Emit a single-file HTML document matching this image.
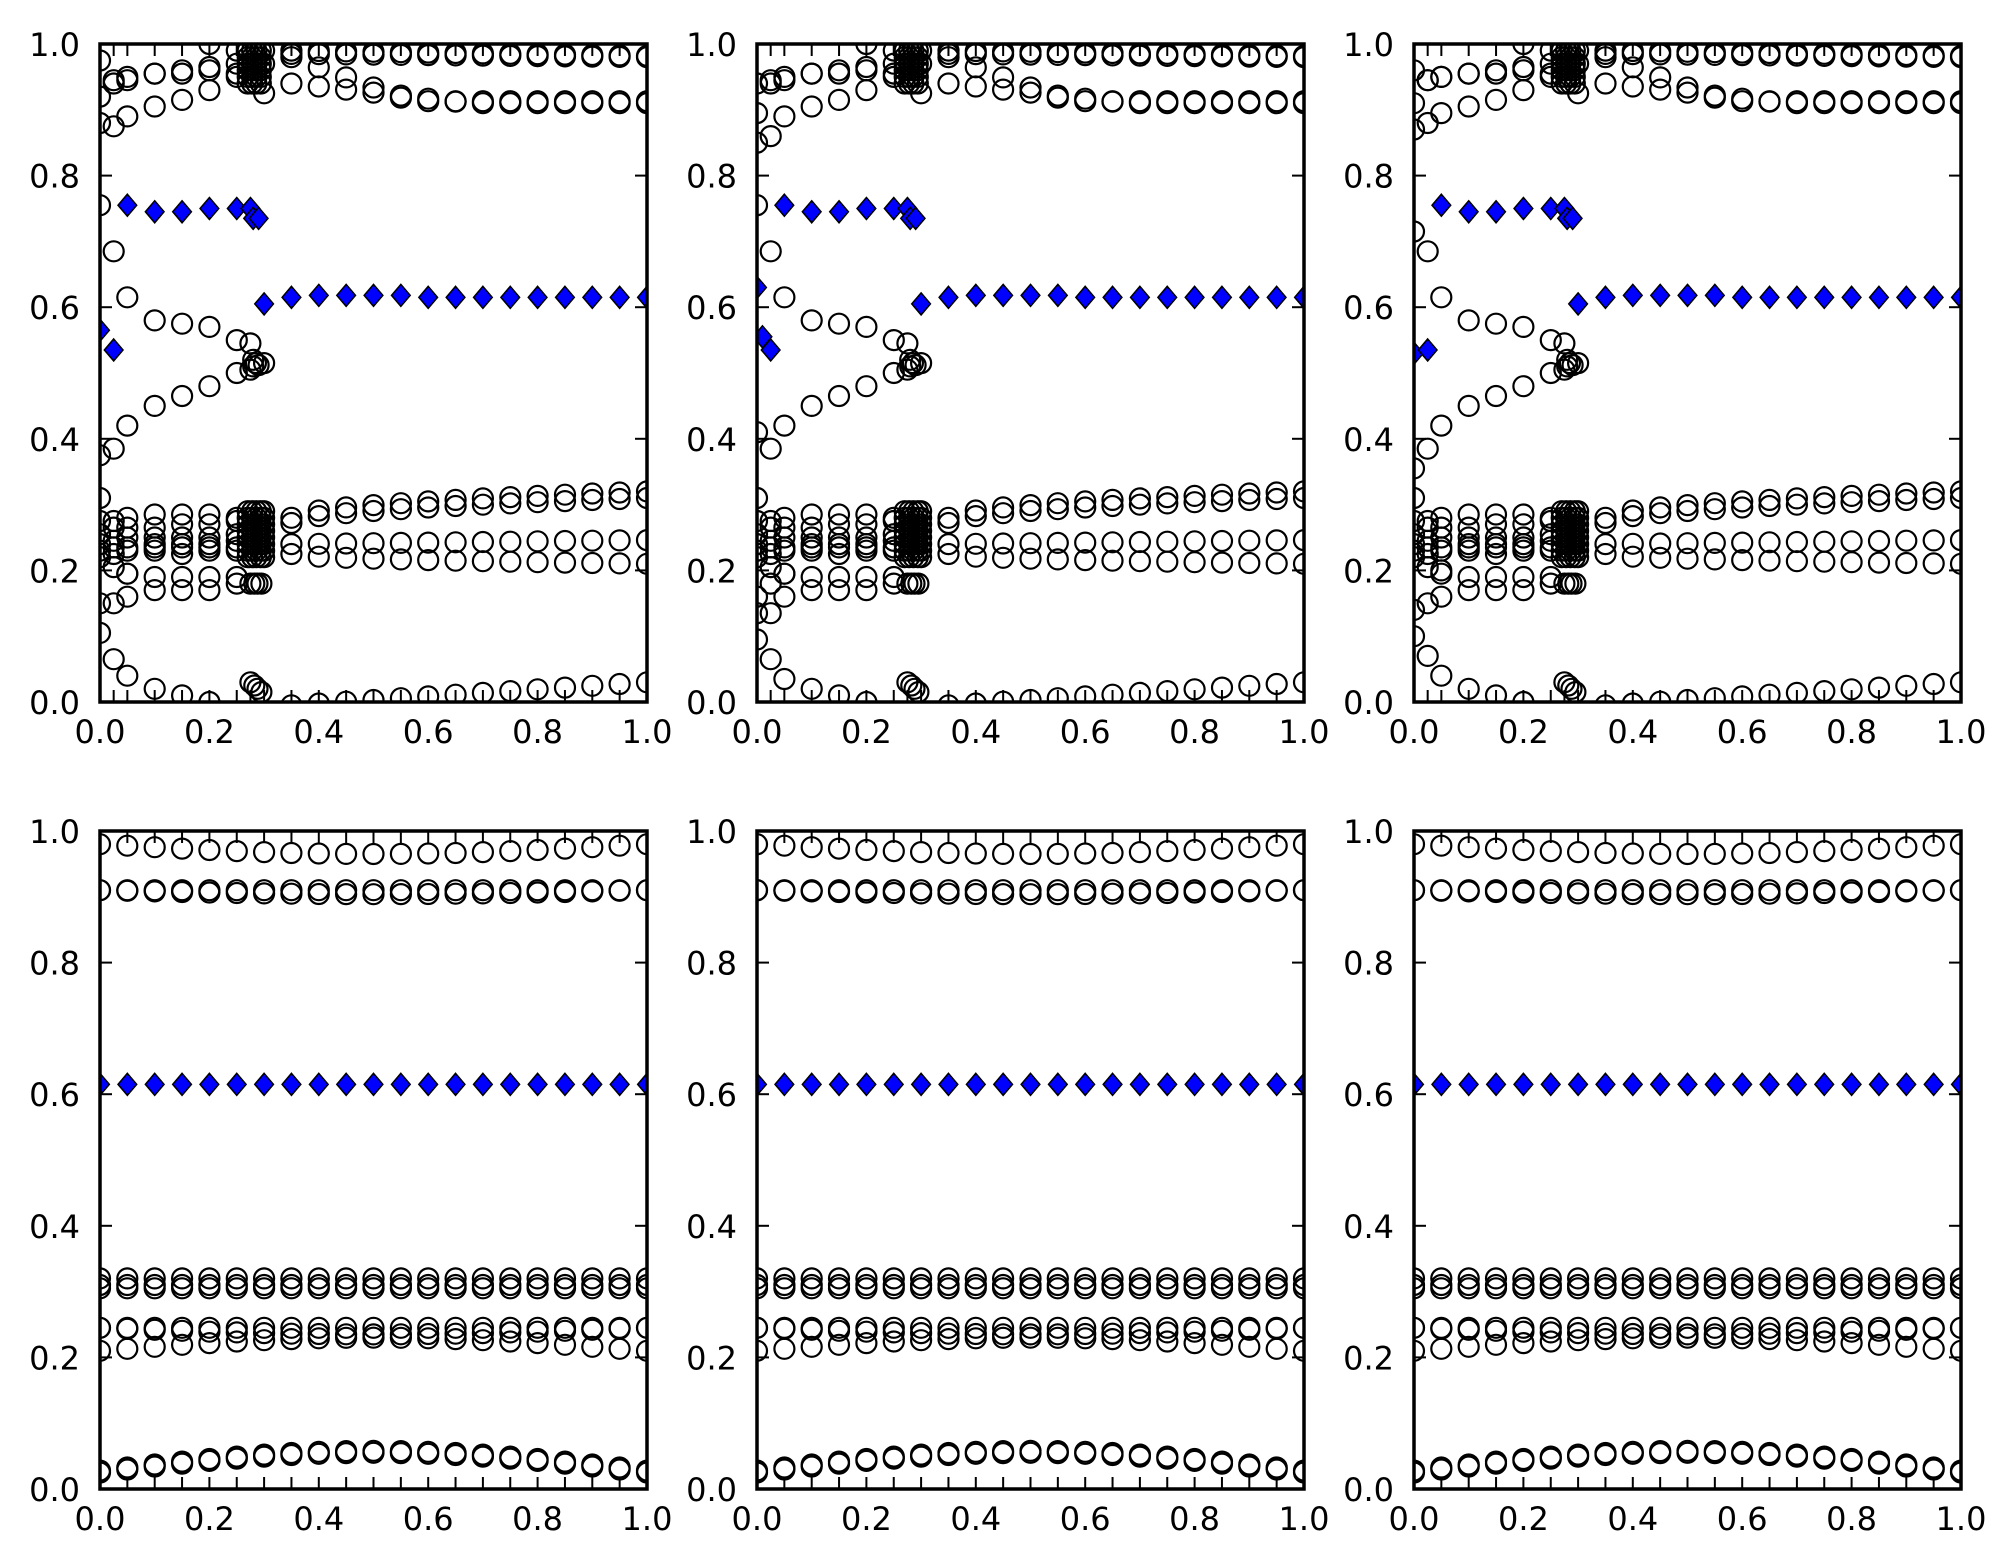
<!DOCTYPE html>
<html><head><meta charset="utf-8"><style>
html,body{margin:0;padding:0;background:#fff;}
svg{display:block;}
text{font-family:"DejaVu Sans","Liberation Sans",sans-serif;font-size:32px;fill:#000;}
</style></head><body>
<svg id="s" width="2011" height="1565" xmlns="http://www.w3.org/2000/svg"></svg>
<script>
var S=document.getElementById('s');
var W=547,H=658,LS=[100,757,1414],TS=[44,831];
var out='';
function top1(v){
  var c=[],d=[];
  var xl=[0,0.025,0.05,0.1,0.15,0.2,0.25];
  var a=[0.88,0.875,0.89,0.905,0.915,0.93,0.95],b=[0.92,0.945,0.95,0.955,0.96,0.965,0.97],e=[0.975,0.94,0.945,0.955,0.955,0.96,0.955],f=[1.0,0.99,0.995,0.995,0.995,1.0,0.99];
  if(v==1){a=[0.85,0.86,0.89,0.905,0.915,0.93,0.95];b=[0.895,0.94,0.945,0.955,0.96,0.965,0.97];e=[0.94,0.945,0.95,0.955,0.955,0.96,0.955];}
  if(v==2){a=[0.87,0.88,0.895,0.905,0.915,0.93,0.95];b=[0.91,0.945,0.95,0.955,0.96,0.965,0.97];e=[0.96,0.945,0.95,0.955,0.955,0.96,0.955];}
  xl.forEach(function(x,i){c.push([x,a[i]],[x,b[i]],[x,e[i]]);if(i>4)c.push([x,f[i]]);});
  [0.27,0.278,0.286,0.294].forEach(function(x){[0.94,0.95,0.96,0.97,0.98,0.99].forEach(function(y){c.push([x,y]);});});
  c.push([0.3,0.925],[0.3,0.97],[0.3,0.99]);
  var xr=[];for(var x=0.35;x<1.001;x+=0.05)xr.push(+x.toFixed(2));
  xr.forEach(function(x,i){
    var t=(x-0.35)/0.65;
    c.push([x,0.99-0.008*t]);c.push([x,0.985-0.005*t]);
    c.push([x,Math.max(0.91,0.94-0.06*t)]);
    c.push([x,Math.max(0.913,0.98-0.2*t)]);
    c.push([x,0.28+0.04*Math.sqrt(t)]);c.push([x,0.272+0.038*Math.sqrt(t)]);
    c.push([x,0.24+0.006*t]);c.push([x,0.225-0.015*Math.sqrt(t)]);
    c.push([x,-0.005+0.035*t]);
  });
  var m1=[0.755,0.685,0.615,0.58,0.575,0.57,0.55],m2=[0.375,0.385,0.42,0.45,0.465,0.48,0.5];
  if(v==1){m2=[0.41,0.385,0.42,0.45,0.465,0.48,0.5];}
  if(v==2){m1=[0.715,0.685,0.615,0.58,0.575,0.57,0.55];m2=[0.355,0.385,0.42,0.45,0.465,0.48,0.5];}
  xl.forEach(function(x,i){c.push([x,m1[i]],[x,m2[i]]);});
  c.push([0.275,0.545],[0.28,0.52],[0.285,0.515],[0.29,0.512],[0.3,0.515],[0.275,0.505],[0.28,0.51]);
  var lo=[[0.31,0.275,0.255,0.24,0.23,0.22],[0.275,0.265,0.245,0.235,0.225,0.205],[0.28,0.265,0.25,0.235,0.23,0.195],[0.285,0.265,0.25,0.24,0.235,0.23],[0.285,0.27,0.25,0.24,0.235,0.225],[0.285,0.27,0.25,0.24,0.235,0.23],[0.28,0.275,0.255,0.245,0.235,0.23]];
  xl.forEach(function(x,i){lo[i].forEach(function(y){c.push([x,y]);});});
  [0.27,0.278,0.286,0.294,0.3].forEach(function(x){[0.29,0.28,0.27,0.26,0.25,0.24,0.23,0.22].forEach(function(y){c.push([x,y]);});});
  var l2=[[0.15,0.105],[0.15,0.065],[0.16,0.195,0.04],[0.17,0.19,0.02],[0.17,0.19,0.01],[0.17,0.19,0.0],[0.18,0.19]];
  if(v==1){l2=[[0.16,0.135,0.095],[0.18,0.135,0.065],[0.16,0.195,0.035],[0.17,0.19,0.02],[0.17,0.19,0.01],[0.17,0.19,0.0],[0.18,0.19]];}
  if(v==2){l2=[[0.14,0.1],[0.15,0.07],[0.16,0.2,0.04],[0.17,0.19,0.02],[0.17,0.19,0.01],[0.17,0.19,0.0],[0.18,0.19]];}
  xl.forEach(function(x,i){l2[i].forEach(function(y){c.push([x,y]);});});
  [0.275,0.282,0.288,0.295].forEach(function(x,i){c.push([x,0.18],[x,0.03-0.005*i]);});
  var dl=[[0,0.565],[0.025,0.535]];
  if(v==1)dl=[[0,0.63],[0.01,0.555],[0.025,0.535]];
  if(v==2)dl=[[0,0.53],[0.025,0.535]];
  d=dl.concat([[0.05,0.755],[0.1,0.745],[0.15,0.745],[0.2,0.75],[0.25,0.75],[0.275,0.75],[0.28,0.735],[0.29,0.735],[0.3,0.605]]);
  xr.forEach(function(x){d.push([x,x<0.4?0.615:(x<0.6?0.618:0.615)]);});
  return {c:c,d:d,tx:[0,0.025,0.05,0.1,0.15,0.2,0.25,0.275,0.3].concat(xr)};
}
function bot(){
  var c=[],d=[],tx=[];
  for(var i=0;i<=20;i++){var x=i/20,t=Math.sin(Math.PI*x);tx.push(x);
    c.push([x,0.98-0.015*t],[x,0.91],[x,0.91-0.006*t],[x,0.32],[x,0.31],[x,0.305],[x,0.245],[x,0.245-0.01*t],[x,0.21+0.02*t],[x,0.025+0.03*t],[x,0.028+0.03*t]);
    d.push([x,0.615]);}
  return {c:c,d:d,tx:tx};
}
var id=0;
function plot(L,T,dat){
  id++;
  var X=function(x){return L+x*W},Y=function(y){return T+(1-y)*H};
  out+='<clipPath id="c'+id+'"><rect x="'+L+'" y="'+T+'" width="'+W+'" height="'+H+'"/></clipPath><g clip-path="url(#c'+id+')">';
  dat.c.forEach(function(p){out+='<circle cx="'+X(p[0]).toFixed(1)+'" cy="'+Y(p[1]).toFixed(1)+'" r="10" fill="none" stroke="#000" stroke-width="2.2"/>';});
  dat.d.forEach(function(p){var x=X(p[0]),y=Y(p[1]),r=11;out+='<polygon points="'+x+','+(y-r)+' '+(x+r*0.85)+','+y+' '+x+','+(y+r)+' '+(x-r*0.85)+','+y+'" fill="#0000ff" stroke="#000" stroke-width="1.5"/>';});
  dat.tx.forEach(function(x){var px=X(x);out+='<line x1="'+px+'" y1="'+T+'" x2="'+px+'" y2="'+(T+12)+'" stroke="#000" stroke-width="2"/><line x1="'+px+'" y1="'+(T+H)+'" x2="'+px+'" y2="'+(T+H-12)+'" stroke="#000" stroke-width="2"/>';});
  for(var k=0;k<=5;k++){var py=Y(k/5);out+='<line x1="'+L+'" y1="'+py+'" x2="'+(L+12)+'" y2="'+py+'" stroke="#000" stroke-width="2"/><line x1="'+(L+W)+'" y1="'+py+'" x2="'+(L+W-12)+'" y2="'+py+'" stroke="#000" stroke-width="2"/>';}
  out+='</g><rect x="'+L+'" y="'+T+'" width="'+W+'" height="'+H+'" fill="none" stroke="#000" stroke-width="3.5"/>';
  for(var k=0;k<=5;k++){var v=(k/5).toFixed(1);
    out+='<text x="'+X(k/5)+'" y="'+(T+H+41)+'" text-anchor="middle">'+v+'</text>';
    out+='<text x="'+(L-20)+'" y="'+(Y(k/5)+12)+'" text-anchor="end">'+v+'</text>';}
}
for(var j=0;j<3;j++){plot(LS[j],TS[0],top1(j));plot(LS[j],TS[1],bot());}
S.innerHTML=out;
</script>
</body></html>
